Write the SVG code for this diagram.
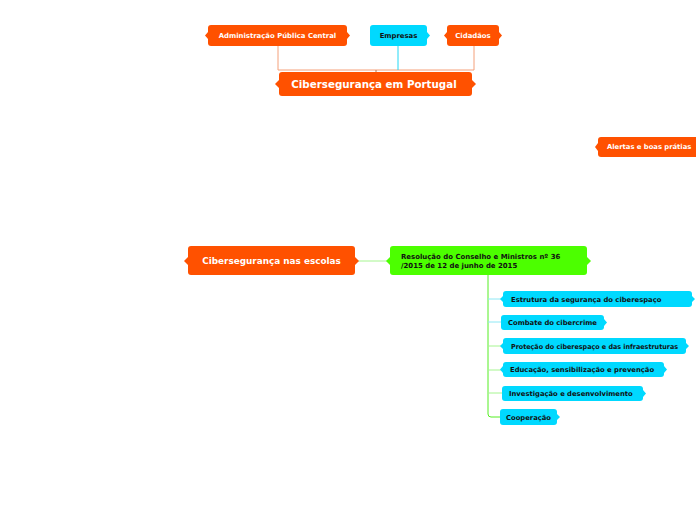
<svg xmlns="http://www.w3.org/2000/svg" width="696" height="520" viewBox="0 0 696 520">
<style>
.o{fill:#ff5100}
.c{fill:#00d9ff}
.g{fill:#4cff00}
text{font-family:"DejaVu Sans","Verdana",sans-serif;font-weight:bold}
.w{fill:#ffffff}
.k{fill:#111111}
.ln{fill:none;stroke-width:1}
.s{font-size:6.8px}
</style>
<rect width="696" height="520" fill="#ffffff"/>
<g id="connectors">
<path class="ln" stroke="#f4a07a" d="M278,46 V70 H474 V46"/>
<path class="ln" stroke="#22d8f5" d="M398,46 V70"/>
<path class="ln" stroke="#b07a5a" d="M376,70 V72"/>
<path class="ln" stroke="#a6f590" d="M355,261 H390"/>
<path class="ln" stroke="#55ee22" d="M488,275 V414 Q488,417 491,417 H500"/>
<path class="ln" stroke="#8ee8f5" d="M488,299 H503"/>
<path class="ln" stroke="#8ee8f5" d="M488,322 H501"/>
<path class="ln" stroke="#a6f590" d="M488,346 H503"/>
<path class="ln" stroke="#a6f590" d="M488,370 H503"/>
<path class="ln" stroke="#a6f590" d="M488,393 H502"/>
</g>
<g id="n-admin">
<rect class="o" x="208" y="25" width="139" height="21" rx="3"/>
<path class="o" d="M208,32 L205,35.5 L208,39Z M347,32 L350,35.5 L347,39Z"/>
<text class="w" x="277.5" y="38" font-size="6.9" text-anchor="middle">Administração Pública Central</text>
</g>
<g id="n-empresas">
<rect class="c" x="370" y="25" width="57" height="21" rx="3"/>
<path class="c" d="M427,32 L430,35.5 L427,39Z"/>
<text class="k" x="398.5" y="38" font-size="6.9" text-anchor="middle">Empresas</text>
</g>
<g id="n-cidadaos">
<rect class="o" x="447" y="25" width="52" height="21" rx="3"/>
<path class="o" d="M447,32 L444,35.5 L447,39Z M499,32 L502,35.5 L499,39Z"/>
<text class="w" x="473" y="38" font-size="6.9" text-anchor="middle">Cidadãos</text>
</g>
<g id="n-root">
<rect class="o" x="279" y="72" width="193" height="24" rx="3"/>
<path class="o" d="M279,80 L275,84 L279,88Z M472,80 L476,84 L472,88Z"/>
<text class="w" x="374" y="87.8" font-size="10.3" text-anchor="middle">Cibersegurança em Portugal</text>
</g>
<g id="n-alertas">
<rect class="o" x="598" y="137" width="102" height="20" rx="3"/>
<path class="o" d="M598,143 L595,147 L598,151Z"/>
<text class="w s" x="607" y="149.3">Alertas e boas prátias</text>
</g>
<g id="n-escolas">
<rect class="o" x="188" y="246" width="167" height="29" rx="3"/>
<path class="o" d="M188,257 L184,261 L188,265Z M355,257 L359,261 L355,265Z"/>
<text class="w" x="271.5" y="264.3" font-size="8.85" text-anchor="middle">Cibersegurança nas escolas</text>
</g>
<g id="n-resolucao">
<rect class="g" x="390" y="246" width="197" height="29" rx="3"/>
<path class="g" d="M390,257 L386,261 L390,265Z M587,257 L591,261 L587,265Z"/>
<text class="k" x="401" y="259" font-size="6.95">Resolução do Conselho e Ministros nº 36</text>
<text class="k" x="401" y="268" font-size="6.95">/2015 de 12 de junho de 2015</text>
</g>
<g id="n-estrutura">
<rect class="c" x="503" y="291" width="189" height="16" rx="3"/>
<path class="c" d="M503,296 L500,299 L503,302Z M692,296 L695,299 L692,302Z"/>
<text class="k s" x="511" y="301.6">Estrutura da segurança do ciberespaço</text>
</g>
<g id="n-combate">
<rect class="c" x="501" y="315" width="103" height="15" rx="3"/>
<path class="c" d="M604,319 L607,322.5 L604,326Z"/>
<text class="k s" x="508" y="325">Combate do cibercrime</text>
</g>
<g id="n-protecao">
<rect class="c" x="503" y="338" width="183" height="16" rx="3"/>
<path class="c" d="M503,343 L500,346 L503,349Z M686,343 L689,346 L686,349Z"/>
<text class="k s" x="511" y="348.6" textLength="167" lengthAdjust="spacingAndGlyphs">Proteção do ciberespaço e das infraestruturas</text>
</g>
<g id="n-educacao">
<rect class="c" x="503" y="362" width="161" height="15" rx="3"/>
<path class="c" d="M503,366 L500,369.5 L503,373Z M664,366 L667,369.5 L664,373Z"/>
<text class="k s" x="510" y="372">Educação, sensibilização e prevenção</text>
</g>
<g id="n-investigacao">
<rect class="c" x="502" y="386" width="141" height="15" rx="3"/>
<path class="c" d="M643,390 L646,393.5 L643,397Z"/>
<text class="k s" x="509" y="396">Investigação e desenvolvimento</text>
</g>
<g id="n-cooperacao">
<rect class="c" x="500" y="409" width="57" height="16" rx="3"/>
<path class="c" d="M557,414 L560,417 L557,420Z"/>
<text class="k s" x="506" y="419.6">Cooperação</text>
</g>
</svg>
